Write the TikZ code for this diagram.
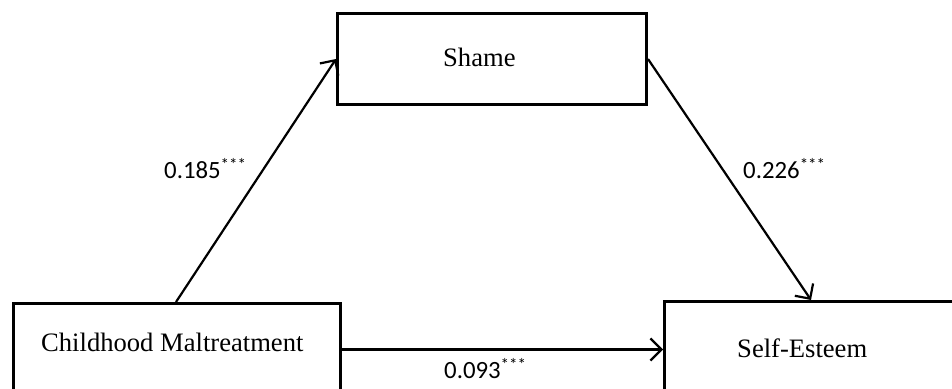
\documentclass[tikz,border=0pt]{standalone}
\usepackage{fontspec}
\setmainfont{Liberation Serif}
\newfontfamily\calib{Carlito}
\usetikzlibrary{arrows.meta}
\newcommand\sigstars{\raisebox{8pt}{\fontsize{17}{17}\selectfont***}}
\begin{document}
\begin{tikzpicture}[x=1pt,y=-1pt,
  box/.style={draw, line width=3pt, rectangle, inner sep=0pt, anchor=north west},
  boxtext/.style={font=\fontsize{26.6}{30}\selectfont, inner sep=0pt, anchor=base west},
  pathway/.style={draw, line width=2.2pt, -{Straight Barb[length=11pt,width=22pt,line width=2.2pt]}},
  coef/.style={font=\calib\fontsize{24.8}{28}\selectfont, inner sep=0pt, anchor=base west}]
\fill[white] (0,0) rectangle (952,388);
\useasboundingbox (0,0) rectangle (952,388);
\clip (0,0) rectangle (952,388);
\node[box, minimum width=309, minimum height=91] (shame) at (336,12) {};
\node[boxtext] (shamet) at (443,66) {Shame};
\node[box, minimum width=327, minimum height=92] (child) at (12,302) {};
\node[boxtext] (childt) at (41,351) {Childhood Maltreatment};
\node[box, minimum width=320, minimum height=92] (self) at (663,300) {};
\node[boxtext] (selft) at (737,357) {Self-Esteem};
\draw[pathway] ([xshift=164pt]child.north west) -- (shame.west);
\draw[pathway] (shame.east) -- ([xshift=148pt]self.north west);
\draw[pathway] (child.east) -- (child.east -| self.west);
\node[coef] (c1) at (164,178) {0.185\sigstars};
\node[coef] (c2) at (743,178) {0.226\sigstars};
\node[coef] (c3) at (444,378) {0.093\sigstars};
\end{tikzpicture}
\end{document}
